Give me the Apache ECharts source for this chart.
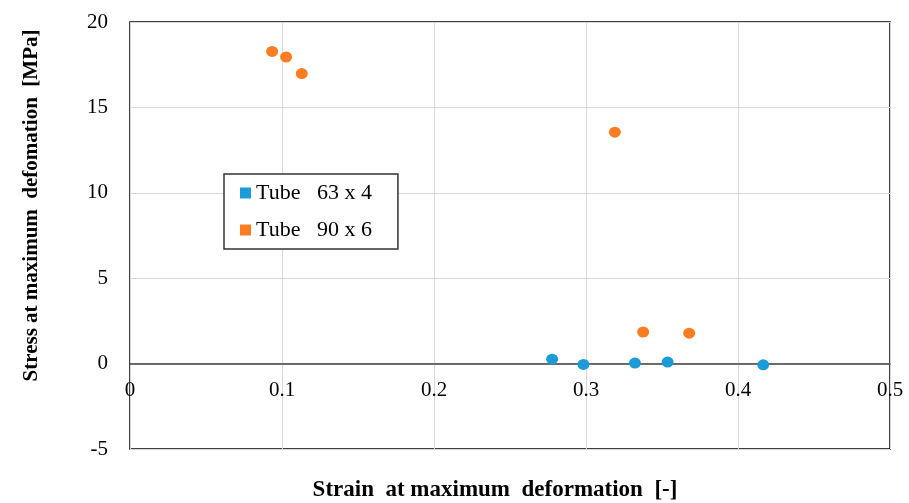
<!DOCTYPE html>
<html>
<head>
<meta charset="utf-8">
<script src="https://cdn.jsdelivr.net/npm/echarts@6/dist/echarts.min.js"></script>
<style>
html,body{margin:0;padding:0;background:#fff;}
#chart{width:909px;height:503px;}
</style>
</head>
<body>
<div id="chart"></div>
<script>
// 数据
var tube63Strain = [0.2777, 0.2983, 0.3322, 0.3537, 0.4166];
var tube63Stress = [0.26, -0.05, 0.03, 0.09, -0.07];
var tube90Strain = [0.0935, 0.1027, 0.1130, 0.3190, 0.3376, 0.3679];
var tube90Stress = [18.28, 17.95, 16.98, 13.55, 1.85, 1.78];
var seriesNames = ['Tube   63 x 4', 'Tube   90 x 6'];
var xTicks = [0, 0.1, 0.2, 0.3, 0.4, 0.5];
var yTicks = [-5, 0, 5, 10, 15, 20];

function pairs(xs, ys){
	var out = [];
	for (var i = 0; i < xs.length; i++) out.push([xs[i], ys[i]]);
	return out;
}

var font = '"Liberation Serif","DejaVu Serif",serif';
var myChar = echarts.init(document.getElementById('chart'));
var option = {
	backgroundColor: '#fff',
	animation: false,
	grid: {
		left: 130,
		right: 19,
		top: 22,
		bottom: 54,
		containLabel: false,
		outerBoundsMode: 'none',
		show: true,
		borderColor: '#000',
		borderWidth: 1.5
	},
	legend: {
		orient: 'vertical',
		left: 224,
		top: 174,
		padding: [8, 26, 8, 16],
		itemGap: 15,
		itemWidth: 11,
		itemHeight: 11,
		icon: 'rect',
		borderColor: '#333',
		borderWidth: 1.5,
		backgroundColor: '#fff',
		textStyle: {
			fontFamily: font,
			fontSize: 22,
			color: '#000'
		},
		data: seriesNames
	},
	xAxis: {
		type: 'value',
		min: xTicks[0],
		max: xTicks[xTicks.length - 1],
		interval: 0.1,
		name: 'Strain  at maximum  deformation  [-]',
		nameLocation: 'middle',
		nameGap: 30,
		nameTextStyle: {
			fontFamily: font,
			fontSize: 23,
			fontWeight: 'bold',
			color: '#000',
			padding: [0, 30, 0, 0]
		},
		axisLine: {
			onZero: true,
			lineStyle: {color: '#404040', width: 1.5}
		},
		axisTick: {show: false},
		axisLabel: {
			margin: -69,
			fontFamily: font,
			fontSize: 21,
			color: '#000',
			formatter: function(v){ return String(Math.round(v * 10) / 10); }
		},
		splitLine: {lineStyle: {color: '#d9d9d9', width: 1}}
	},
	yAxis: {
		type: 'value',
		min: yTicks[0],
		max: yTicks[yTicks.length - 1],
		interval: 5,
		name: 'Stress at maximum  defomation  [MPa]',
		nameLocation: 'middle',
		nameGap: 88,
		nameTextStyle: {
			fontFamily: font,
			fontSize: 21,
			fontWeight: 'bold',
			color: '#000',
			padding: [0, 0, 0, 60]
		},
		axisLine: {show: false},
		axisTick: {show: false},
		axisLabel: {
			margin: 22,
			fontFamily: font,
			fontSize: 21,
			color: '#000'
		},
		splitLine: {lineStyle: {color: '#d9d9d9', width: 1}}
	},
	series: [
		{
			name: seriesNames[0],
			type: 'scatter',
			symbol: 'circle',
			symbolSize: [12, 11],
			itemStyle: {color: '#1b9bd7', opacity: 1},
			data: pairs(tube63Strain, tube63Stress)
		},
		{
			name: seriesNames[1],
			type: 'scatter',
			symbol: 'circle',
			symbolSize: [12, 11],
			itemStyle: {color: '#fb7d21', opacity: 1},
			data: pairs(tube90Strain, tube90Stress)
		}
	]
};
myChar.setOption(option);
</script>
</body>
</html>
